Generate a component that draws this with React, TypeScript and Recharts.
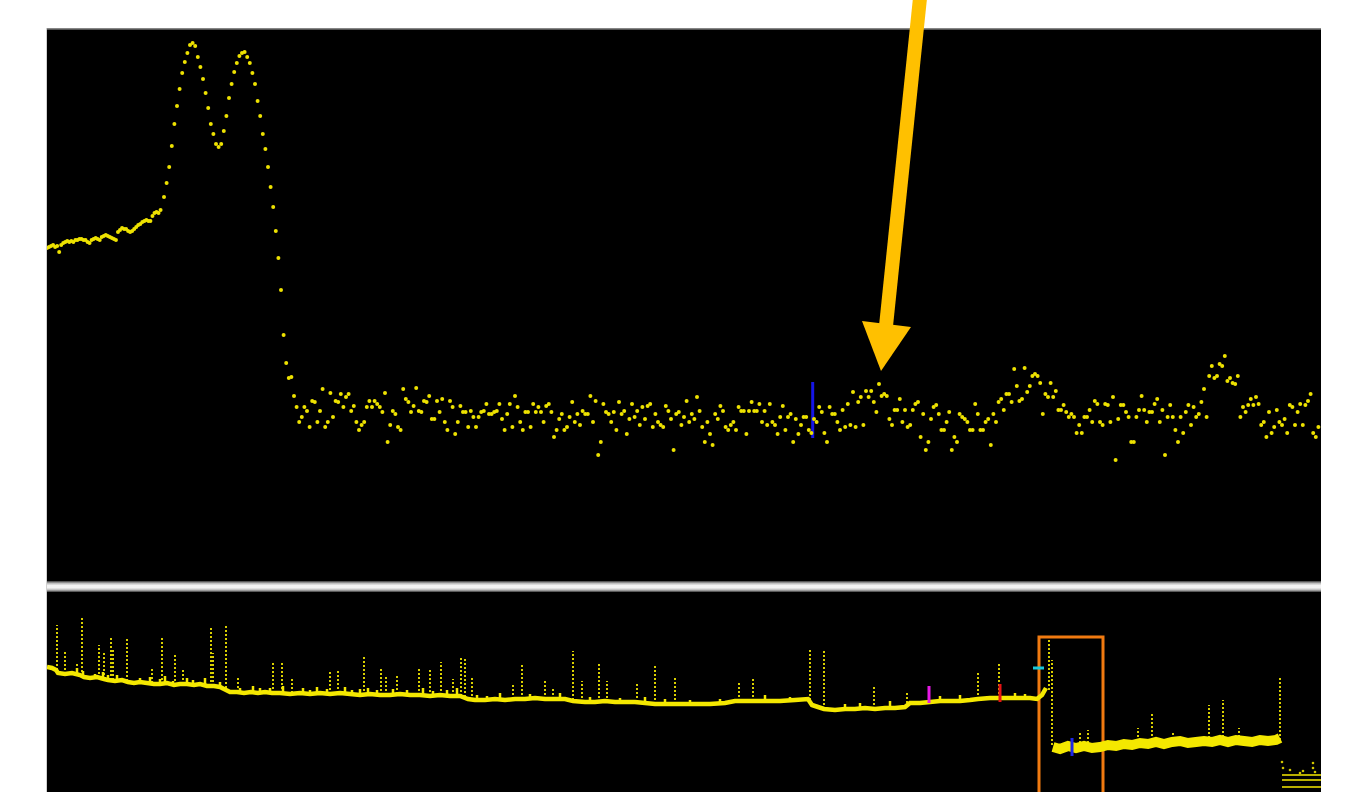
import { ScatterChart, Scatter, ComposedChart, Line, XAxis, YAxis, ReferenceLine, ReferenceArea } from 'recharts'

// zoomed squiggle (signal units), lead-in is sampled denser than the rest
const leadSignal = [
  332, 333, 334, 335, 333, 334, 328, 335, 337, 338, 339, 338, 339, 338, 340, 340, 341, 341, 340, 340,
  338, 337, 340, 341, 342, 341, 340, 343, 344, 345, 344, 343, 342, 341, 340, 348, 350, 352, 351, 351,
  349, 348, 349, 351, 353, 355, 356, 358, 359, 360, 359, 359, 364, 367, 368, 367, 370,
]
const peakSignal = [
  383, 397, 413, 434, 456, 474, 491, 507, 518, 527, 535, 537, 534, 523, 513, 501, 487, 472, 456, 446,
  436, 433, 436, 449, 464, 482, 496, 508, 517, 524, 527, 528, 523, 517, 507, 496, 479, 464, 446, 431,
  413, 393, 373, 349, 322, 290, 245,
]
const tailSignalA = [
  217, 202, 203, 184, 173, 158, 163, 173, 169, 153, 179, 178, 158, 169, 191, 153, 158, 187, 163, 179,
  178, 186, 173, 183, 186, 169, 174, 158, 150, 155, 158, 173, 179, 173, 179, 176, 173, 168, 187, 138,
  155, 169, 166, 153, 150, 191, 181, 178, 168, 174, 192, 169, 168, 179, 178, 184, 161, 161, 179, 168,
  181, 158, 150, 179, 173, 146, 158, 174, 168, 168, 153, 169, 163, 153, 163, 168, 169, 176, 166, 166,
  168, 169, 176, 161, 150, 166, 176, 153, 184, 173, 158, 150, 168, 168, 153, 176, 168, 173, 168, 158,
  174, 176, 168, 143, 150, 161, 166, 150, 153, 163, 178, 158, 166, 155, 169, 166, 166, 184, 158, 179,
  125, 138, 176, 168, 166, 158, 168, 150, 178, 166, 169, 146, 161, 176, 163, 169, 155, 173, 161, 174,
  176, 153, 166, 158, 155, 153, 174, 169, 161, 130, 166, 168, 155, 163, 179, 158, 166, 161, 183, 169,
  153, 138, 158, 146, 135, 166, 161, 174, 169, 153, 150, 155, 158, 150, 173, 169, 169, 146, 169, 178,
  169, 169, 176, 158, 169, 155, 176, 158, 155, 146, 163, 174, 150, 163, 166, 138, 161, 146, 155, 163,
]
const tailSignalB = [
  163, 150, 147, 161, 158, 173, 168, 147, 138, 173, 166, 166, 158, 150, 170, 153, 176, 155, 188, 153,
  178, 183, 155, 189, 183, 189, 178, 168, 196, 184, 186, 184, 161, 155, 170, 170, 181, 158, 170, 153,
  155, 170, 176, 178, 143, 166, 130, 138, 161, 173, 175, 166, 150, 150, 158, 168, 130, 143, 138, 166,
  163, 161, 158, 150, 150, 176, 166, 150, 150, 158, 161, 135, 166, 158, 178, 181, 170, 186, 186, 178,
  211, 194, 179, 181, 212, 188, 194, 204, 206, 204, 197, 166, 186, 183, 197, 183, 189, 170, 170, 175,
  168, 163, 166, 163, 147, 155, 147, 163, 163, 170, 158, 179, 176, 158, 155, 176, 175, 158, 183, 120,
  161, 175, 175, 168, 163, 138, 138, 163, 170, 184, 170, 158, 168, 168, 176, 181, 158, 170, 125, 163,
  175, 163, 150, 138, 163, 147, 168, 175, 155, 173, 163, 166, 178, 191, 163, 204, 214, 202, 204, 216,
  214, 224, 199, 202, 197, 196, 204, 163, 173, 168, 175, 181, 175, 183, 176, 155, 158, 143, 168, 147,
  153, 170, 158, 155, 161, 147, 175, 173, 155, 168, 176, 155, 175, 179, 186, 147, 143, 153,
]
const LEAD_STEP = 0.78
const MAIN_START = 45
const topMarker = { t: 294.5, low: 142, high: 198 }

// whole-read overview: [position, level]
const overviewBefore = [
  [0, 125], [0.5, 124], [0.9, 122], [1.1, 119], [1.8, 118], [2.5, 119], [3.3, 117], [3.7, 115], [4.3, 114], [5.0, 115],
  [5.7, 113], [6.1, 112], [6.8, 111], [7.5, 112], [8.1, 110], [8.7, 109], [9.3, 110], [10.0, 109], [10.7, 108], [11.3, 108],
  [12.0, 109], [12.7, 107], [13.3, 108], [14.0, 108], [14.7, 107], [15.3, 108], [16.0, 106], [16.7, 106], [17.3, 105], [17.9, 102],
  [18.3, 100], [19.0, 100], [19.7, 99], [20.4, 100], [21.1, 99], [21.8, 100], [22.5, 99], [23.3, 99], [24.3, 98], [25.3, 99],
  [26.3, 98], [27.3, 99], [28.3, 98], [29.3, 99], [30.3, 98], [31.3, 97], [32.3, 98], [33.3, 97], [34.3, 97], [35.3, 98],
  [36.3, 97], [37.3, 97], [38.3, 96], [39.3, 97], [40.3, 96], [41.3, 96], [42.1, 93], [42.8, 92], [43.8, 92], [44.8, 93],
  [45.8, 92], [46.8, 93], [47.8, 93], [48.8, 94], [49.8, 93], [50.8, 93], [51.8, 93], [52.6, 91], [53.8, 90], [54.8, 90],
  [55.8, 91], [56.8, 90], [57.8, 90], [58.8, 90], [59.8, 89], [60.8, 88], [61.8, 88], [63.3, 88], [64.8, 88], [66.3, 88],
  [67.8, 89], [68.8, 91], [70.3, 91], [71.8, 91], [73.3, 91], [74.8, 92], [76.1, 93], [76.5, 87], [77.1, 85], [77.7, 83],
  [78.8, 82], [79.8, 83], [80.8, 83], [81.8, 84], [82.8, 83], [83.8, 84], [84.8, 84], [85.8, 85], [86.3, 89], [87.3, 89],
  [88.3, 90], [89.3, 91], [90.3, 91], [91.3, 91], [92.3, 92], [93.1, 93], [94.3, 94], [95.3, 94], [96.3, 94], [97.3, 94],
  [98.3, 94], [99.0, 93], [99.5, 97], [99.9, 104],
]
const overviewAfter = [
  [100.6, 45], [101.3, 43], [102.1, 46], [102.9, 44], [103.7, 46], [104.5, 44], [105.3, 45], [106.1, 47], [106.9, 46], [107.7, 48],
  [108.5, 47], [109.3, 49], [110.1, 48], [110.9, 50], [111.7, 48], [112.5, 50], [113.3, 51], [114.1, 49], [114.9, 50], [115.7, 51],
  [116.5, 50], [117.3, 52], [118.1, 50], [118.9, 52], [119.7, 51], [120.5, 50], [121.3, 52], [122.1, 51], [122.9, 52], [123.3, 54],
]
// tall dotted spikes: [position, top, base]
const spikes = [
  [1.0, 167, 122], [1.8, 142, 118], [3.0, 129, 118], [3.5, 174, 116], [5.2, 147, 114], [5.7, 140, 113], [6.4, 155, 112],
  [6.6, 142, 112], [8.0, 154, 111], [10.5, 124, 109], [11.5, 155, 108], [12.8, 139, 107], [13.6, 123, 108], [16.4, 165, 106],
  [16.6, 139, 106], [17.9, 167, 104], [19.1, 116, 100], [22.6, 129, 99], [23.5, 130, 99], [24.5, 115, 99], [28.3, 121, 98],
  [29.1, 121, 99], [31.7, 136, 97], [33.4, 123, 97], [33.9, 117, 97], [35.0, 117, 98], [37.2, 123, 97], [38.3, 124, 96],
  [39.4, 130, 97], [40.6, 113, 96], [41.4, 134, 96], [41.8, 134, 95], [42.5, 115, 92], [46.6, 108, 93], [47.5, 128, 93],
  [49.8, 111, 93], [50.6, 105, 93], [52.6, 141, 92], [53.5, 111, 90], [55.2, 128, 90], [56.0, 111, 90], [59.0, 108, 90],
  [60.8, 126, 88], [62.8, 115, 88], [69.2, 111, 91], [70.6, 113, 91], [76.3, 144, 92], [77.7, 143, 83], [82.7, 106, 83],
  [86.0, 99, 85], [93.1, 121, 93], [95.2, 129, 94], [100.2, 152, 102], [100.5, 132, 47], [103.3, 59, 45], [104.1, 62, 45],
  [109.1, 64, 47], [110.5, 79, 48], [112.6, 60, 49], [116.2, 87, 50], [117.6, 92, 51], [119.2, 64, 51], [123.3, 115, 52],
]
// short bumps along the trace: [position, top, base]
const tufts = [
  [3.0, 124, 118], [3.6, 121, 116], [4.8, 118, 114], [5.6, 120, 113], [6.1, 117, 112], [7.0, 117, 111], [9.3, 114, 110],
  [10.3, 115, 109], [11.3, 113, 108], [11.8, 116, 109], [12.6, 111, 107], [14.0, 114, 108], [14.6, 112, 107], [15.8, 114, 106],
  [17.3, 110, 105], [19.3, 104, 100], [20.6, 106, 100], [21.3, 104, 99], [22.3, 104, 100], [23.6, 106, 99], [25.6, 104, 99],
  [26.3, 102, 98], [27.0, 105, 99], [28.0, 103, 98], [29.8, 105, 99], [30.5, 102, 98], [31.3, 103, 98], [32.1, 104, 97],
  [33.0, 102, 97], [34.6, 103, 97], [36.0, 102, 97], [37.6, 104, 97], [38.6, 101, 96], [40.0, 102, 96], [41.0, 104, 96],
  [43.0, 97, 92], [44.0, 96, 92], [45.3, 99, 93], [48.3, 98, 93], [51.3, 99, 93], [54.3, 95, 90], [57.3, 94, 90],
  [59.8, 95, 89], [61.8, 93, 88], [64.3, 92, 88], [67.3, 93, 88], [71.8, 97, 91], [74.3, 95, 91], [79.8, 88, 83],
  [81.3, 89, 83], [84.3, 91, 84], [89.3, 96, 91], [91.3, 97, 91], [96.8, 99, 94], [97.8, 98, 94],
]
const tailDots = [[123.5, 30], [123.6, 24], [124.3, 22], [125.3, 19], [125.6, 21], [126.6, 29], [126.6, 24], [126.8, 20]]
const tailLevels = [17, 12, 5]
const markers = {
  magenta: { x: 88.2, low: 89, high: 106 },
  red: { x: 95.3, low: 90, high: 108 },
  blue: { x: 102.5, low: 36, high: 54 },
  cyan: { x1: 98.6, x2: 99.7, y: 124 },
  window: { x1: 99.2, x2: 105.6, top: 155 },
}

const DOT = '#eee200'
const TRACE = '#f4e800'
const SPIKE = '#d8cf00'

const topPoints = [
  ...leadSignal.map((v, i) => ({ t: i * LEAD_STEP, v })),
  ...[...peakSignal, ...tailSignalA, ...tailSignalB].map((v, i) => ({ t: MAIN_START + i, v })),
]
const toPoints = (rows: number[][]) => rows.map(([x, w]) => ({ x, w }))
const toColumns = (rows: number[][]) =>
  rows.flatMap(([x, top, base]) => [{ x, w: base }, { x, w: top }, { x, w: null as number | null }])

const beforeData = toPoints(overviewBefore)
const afterData = toPoints(overviewAfter)
const spikeData = toColumns(spikes)
const tuftData = toColumns(tufts)
const tailData = toPoints(tailDots)

const TopDot = (p: any) => <circle cx={p.cx} cy={p.cy} r={2} fill={DOT} />
const TailDot = (p: any) => <circle cx={p.cx} cy={p.cy} r={1.3} fill="#cfc400" />

const noMargin = { top: 0, right: 0, bottom: 0, left: 0 }

export default function App() {
  return (
    <div style={{ position: 'absolute', left: 0, top: 0, width: 1348, height: 792, background: '#fff', overflow: 'hidden' }}>
      <div style={{ position: 'absolute', left: 46, top: 28, width: 1, height: 764, background: '#d0d0d0' }} />
      <div style={{ position: 'absolute', left: 47, top: 28, width: 1274, height: 2, background: 'linear-gradient(#a0a0a0, #3c3c3c)' }} />

      <div style={{ position: 'absolute', left: 47, top: 30, width: 1274, height: 551, background: '#000' }}>
        <ScatterChart width={1274} height={550} margin={noMargin}>
          <XAxis type="number" dataKey="t" domain={[0, 490]} hide />
          <YAxis type="number" dataKey="v" domain={[0, 550]} hide width={0} />
          <Scatter data={topPoints} isAnimationActive={false} shape={TopDot} />
          <ReferenceLine
            segment={[{ x: topMarker.t, y: topMarker.low }, { x: topMarker.t, y: topMarker.high }]}
            stroke="#1515e6" strokeWidth={3} />
        </ScatterChart>
      </div>

      <div style={{
        position: 'absolute', left: 47, top: 581, width: 1274, height: 11,
        background: 'linear-gradient(#3a3a3a, #b8b8b8 20%, #f3f3f3 40%, #f3f3f3 62%, #b8b8b8 82%, #3a3a3a)',
      }} />

      <div style={{ position: 'absolute', left: 47, top: 592, width: 1274, height: 200, background: '#000' }}>
        <ComposedChart width={1274} height={200} margin={noMargin}>
          <XAxis type="number" dataKey="x" domain={[0, 127.4]} hide />
          <YAxis type="number" dataKey="w" domain={[0, 200]} hide width={0} />
          <Line data={spikeData} dataKey="w" type="linear" stroke={SPIKE} strokeWidth={2}
            strokeDasharray="2 2" dot={false} isAnimationActive={false} />
          <Line data={tuftData} dataKey="w" type="linear" stroke={TRACE} strokeWidth={2.5}
            dot={false} isAnimationActive={false} />
          <Line data={beforeData} dataKey="w" type="linear" stroke={TRACE} strokeWidth={4.5}
            dot={false} isAnimationActive={false} />
          <Line data={afterData} dataKey="w" type="linear" stroke={TRACE} strokeWidth={10}
            dot={false} isAnimationActive={false} />
          <Scatter data={tailData} dataKey="w" isAnimationActive={false} shape={TailDot} />
          {tailLevels.map((lv) => (
            <ReferenceLine key={lv} segment={[{ x: 123.5, y: lv }, { x: 127.4, y: lv }]}
              stroke="#b9ae00" strokeWidth={2} />
          ))}
          <ReferenceLine segment={[{ x: markers.magenta.x, y: markers.magenta.low }, { x: markers.magenta.x, y: markers.magenta.high }]}
            stroke="#e619e6" strokeWidth={3} />
          <ReferenceLine segment={[{ x: markers.red.x, y: markers.red.low }, { x: markers.red.x, y: markers.red.high }]}
            stroke="#e61414" strokeWidth={3} />
          <ReferenceLine segment={[{ x: markers.blue.x, y: markers.blue.low }, { x: markers.blue.x, y: markers.blue.high }]}
            stroke="#1e28e6" strokeWidth={3} />
          <ReferenceLine segment={[{ x: markers.cyan.x1, y: markers.cyan.y }, { x: markers.cyan.x2, y: markers.cyan.y }]}
            stroke="#19c8d8" strokeWidth={3} />
          <ReferenceArea x1={markers.window.x1} x2={markers.window.x2} y1={-10} y2={markers.window.top}
            fill="none" stroke="#f07a10" strokeWidth={3} fillOpacity={0} ifOverflow="visible" />
        </ComposedChart>
      </div>

      <svg width={1348} height={792} style={{ position: 'absolute', left: 0, top: 0, pointerEvents: 'none' }}>
        <line x1={920} y1={-2} x2={886} y2={326} stroke="#ffc000" strokeWidth={14} />
        <polygon points="862,321 911,327 881,371" fill="#ffc000" />
      </svg>
    </div>
  )
}
